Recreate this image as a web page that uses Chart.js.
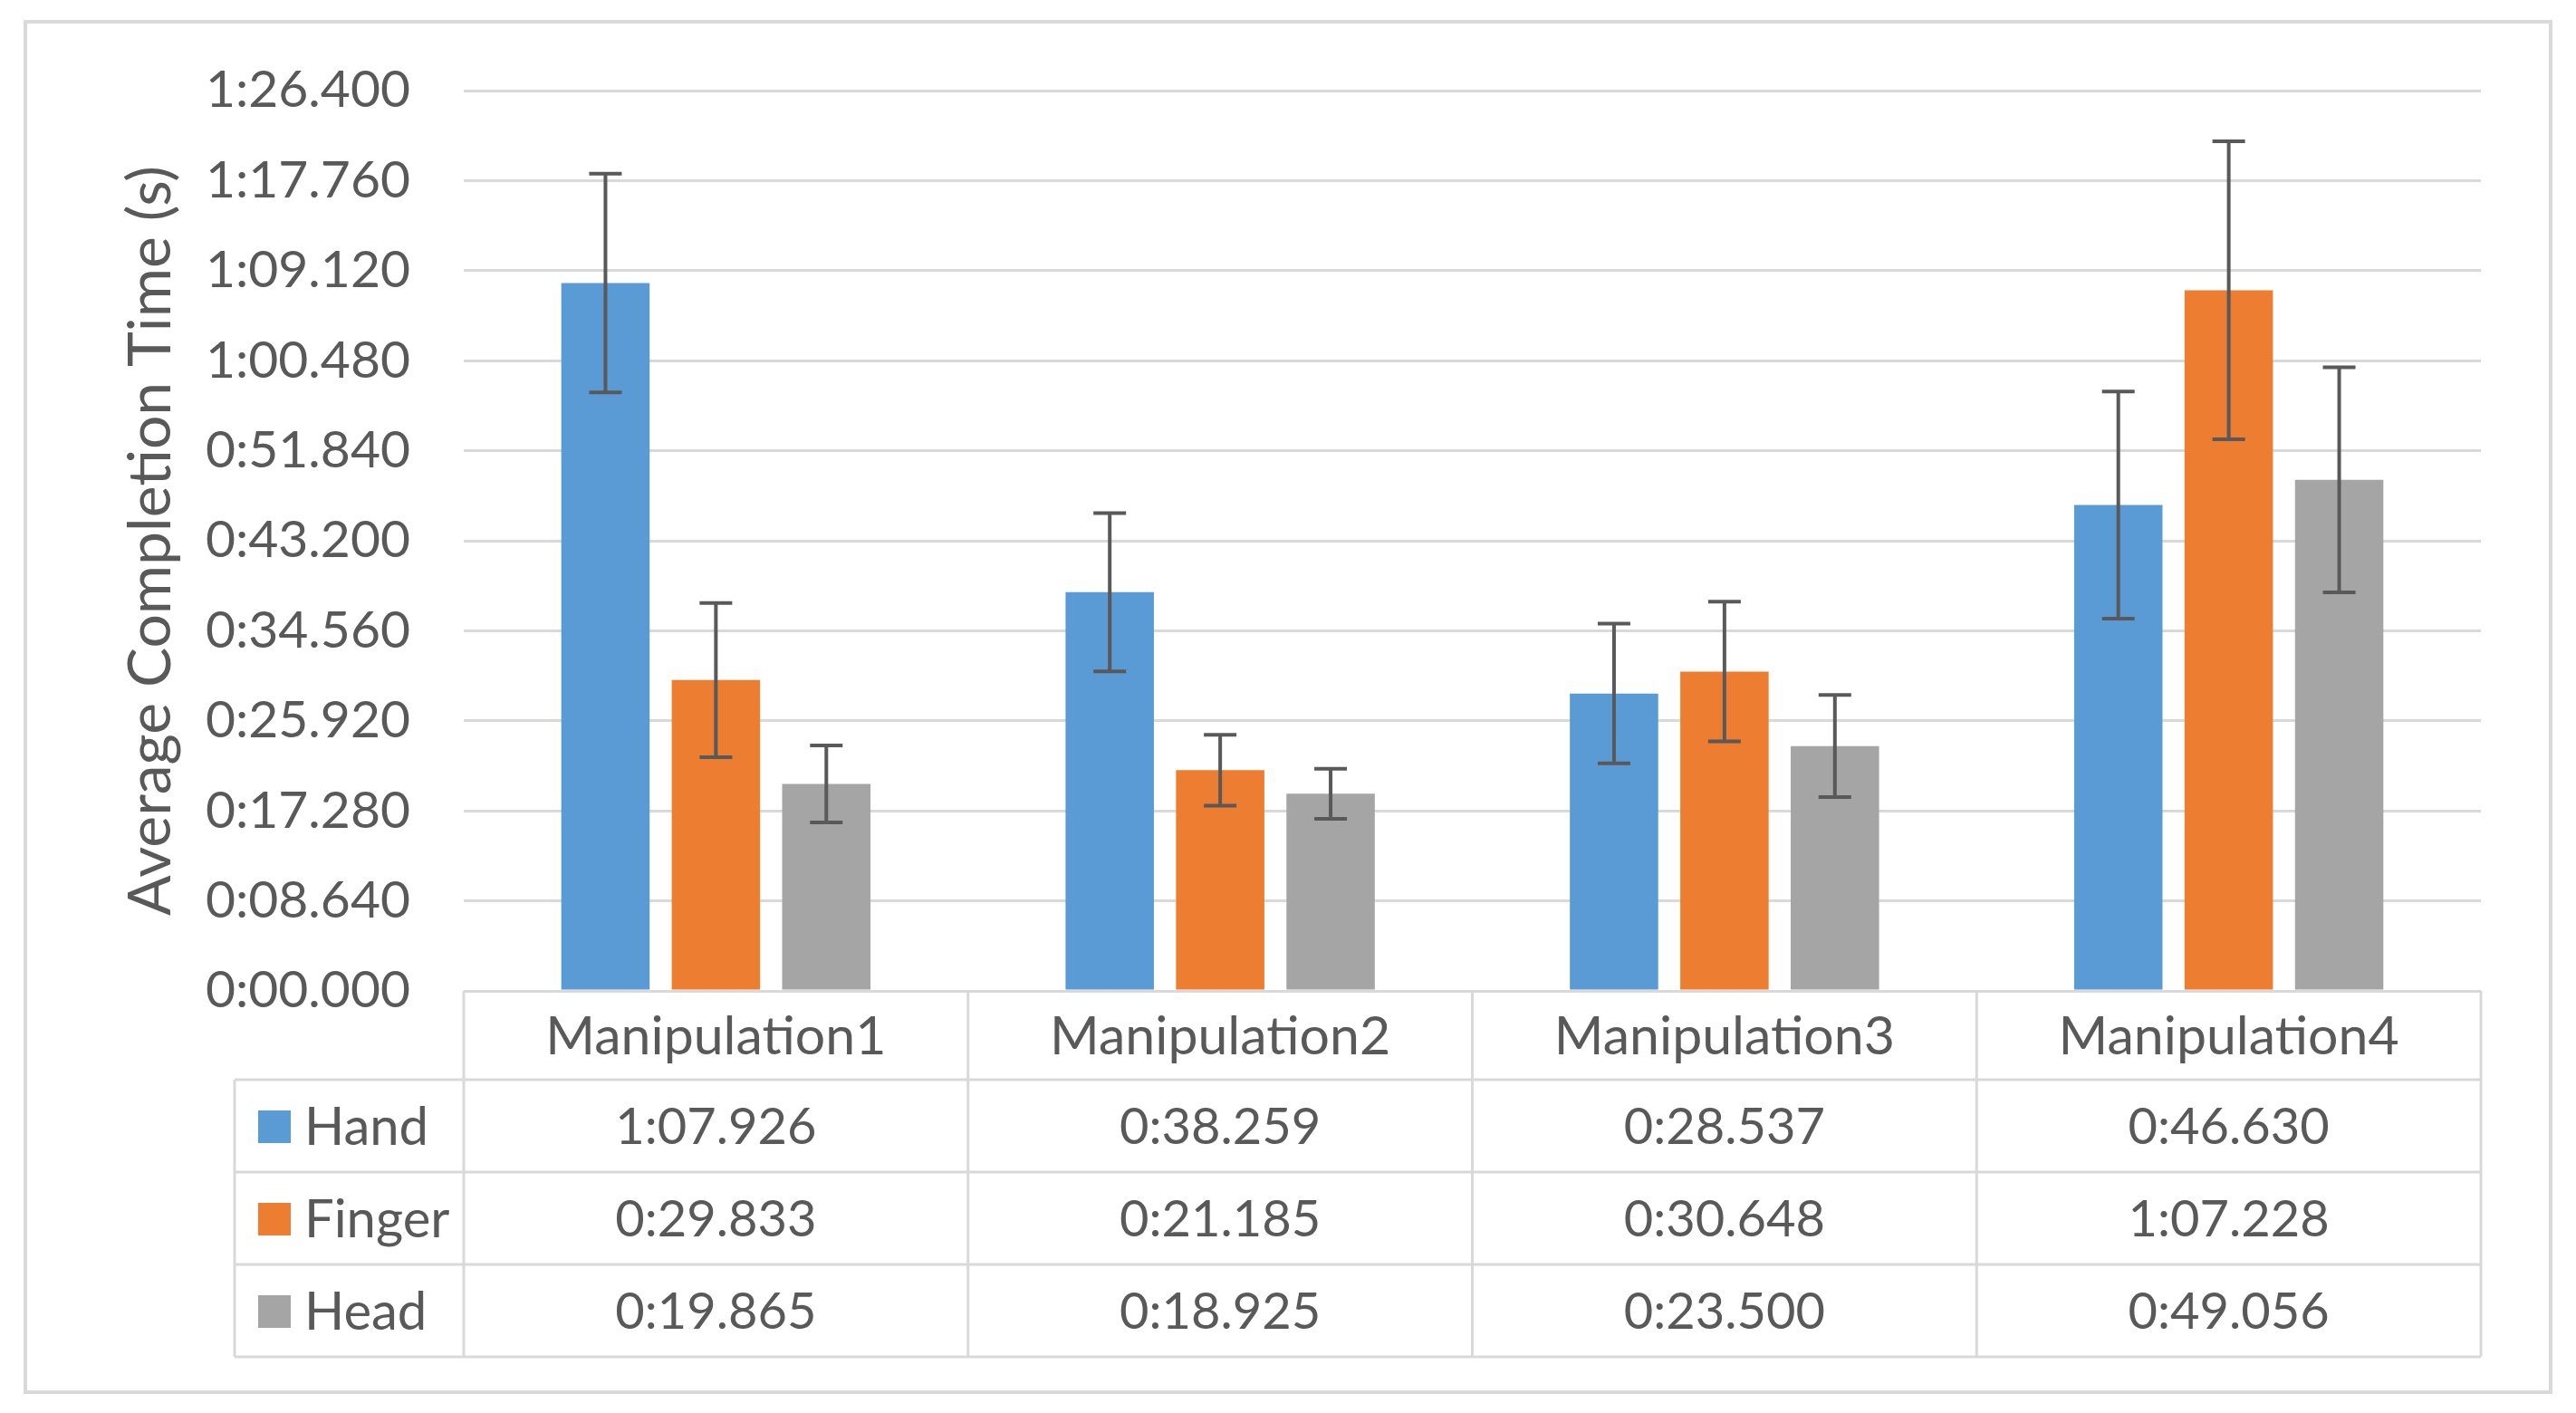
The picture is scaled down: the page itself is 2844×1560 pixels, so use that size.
<!DOCTYPE html>
<html>
<head>
<meta charset="utf-8">
<script src="https://cdn.jsdelivr.net/npm/chart.js@4/dist/chart.umd.min.js"></script>
<style>
  html, body { margin: 0; padding: 0; background: #ffffff; }
  #wrap { width: 2844px; height: 1560px; }
</style>
</head>
<body>
<div id="wrap"><canvas id="c" width="2844" height="1560"></canvas></div>
<script>
// ---- data (seconds) ----
const categories = ["Manipulation1", "Manipulation2", "Manipulation3", "Manipulation4"];
const seriesNames = ["Hand", "Finger", "Head"];
const handValues   = [67.926, 38.259, 28.537, 46.630];
const fingerValues = [29.833, 21.185, 30.648, 67.228];
const headValues   = [19.865, 18.925, 23.500, 49.056];
// error bar half-lengths (seconds)
const handErrors   = [10.5, 7.6, 6.7, 10.9];
const fingerErrors = [7.4, 3.4, 6.7, 14.3];
const headErrors   = [3.7, 2.4, 4.9, 10.8];
// y axis ticks
const yMin = 0, yMax = 86.4, yStep = 8.64;

const colors = ["#5B9BD5", "#ED7D31", "#A5A5A5"];
const textColor = "#595959";
const lineColor = "#D9D9D9";
const FONT = "Lato, 'Open Sans', 'Liberation Sans', sans-serif";

function fmtTime(v) {
  const ms = Math.round(v * 1000);
  const m = Math.floor(ms / 60000);
  const rest = ms % 60000;
  const s = Math.floor(rest / 1000);
  const f = rest % 1000;
  return m + ":" + String(s).padStart(2, "0") + "." + String(f).padStart(3, "0");
}

const valueSets = [handValues, fingerValues, headValues];
const errorSets = [handErrors, fingerErrors, headErrors];

const frame = {
  id: "frame",
  beforeDraw(chart) {
    const ctx = chart.ctx;
    ctx.save();
    ctx.fillStyle = "#ffffff";
    ctx.fillRect(0, 0, chart.width, chart.height);
    ctx.strokeStyle = lineColor;
    ctx.lineWidth = 4;
    ctx.strokeRect(28, 24, 2788, 1513);
    ctx.restore();
  }
};

const errorBars = {
  id: "errorBars",
  afterDatasetsDraw(chart) {
    const ctx = chart.ctx;
    const y = chart.scales.y;
    ctx.save();
    ctx.strokeStyle = "#595959";
    ctx.lineWidth = 4;
    chart.data.datasets.forEach((ds, di) => {
      const meta = chart.getDatasetMeta(di);
      meta.data.forEach((bar, i) => {
        const v = ds.data[i], e = errorSets[di][i];
        const x = bar.x;
        const yt = y.getPixelForValue(v + e);
        const yb = y.getPixelForValue(v - e);
        const cap = 18;
        ctx.beginPath();
        ctx.moveTo(x, yt); ctx.lineTo(x, yb);
        ctx.moveTo(x - cap, yt); ctx.lineTo(x + cap, yt);
        ctx.moveTo(x - cap, yb); ctx.lineTo(x + cap, yb);
        ctx.stroke();
      });
    });
    ctx.restore();
  }
};

const dataTable = {
  id: "dataTable",
  afterDraw(chart) {
    const ctx = chart.ctx;
    const area = chart.chartArea;
    const n = categories.length;
    const colW = area.width / n;
    const top = area.bottom;
    const headerH = 98;
    const rowH = 102;
    const tableLeft = 259;
    const rowsTop = top + headerH;
    const tableBottom = rowsTop + rowH * seriesNames.length;
    ctx.save();
    ctx.strokeStyle = lineColor;
    ctx.lineWidth = 3;
    ctx.beginPath();
    for (let i = 0; i <= n; i++) {
      const x = area.left + i * colW;
      ctx.moveTo(x, top); ctx.lineTo(x, tableBottom);
    }
    ctx.moveTo(tableLeft, rowsTop); ctx.lineTo(tableLeft, tableBottom);
    for (let r = 0; r <= seriesNames.length; r++) {
      const yy = rowsTop + r * rowH;
      ctx.moveTo(tableLeft, yy); ctx.lineTo(area.right, yy);
    }
    ctx.stroke();

    ctx.fillStyle = textColor;
    ctx.textBaseline = "middle";
    ctx.textAlign = "center";
    const xs = chart.scales.x;
    ctx.font = "59px " + FONT;
    categories.forEach((c, i) => {
      ctx.fillText(c, xs.getPixelForValue(i), top + headerH / 2 + 2);
    });
    seriesNames.forEach((s, r) => {
      const cy = rowsTop + r * rowH + rowH / 2 + 2;
      ctx.fillStyle = colors[r];
      ctx.fillRect(285, cy - 19, 36, 36);
      ctx.fillStyle = textColor;
      ctx.font = "58px " + FONT;
      ctx.textAlign = "left";
      ctx.fillText(s, 336, cy);
      ctx.font = "56px " + FONT;
      ctx.textAlign = "center";
      valueSets[r].forEach((v, i) => {
        ctx.fillText(fmtTime(v), xs.getPixelForValue(i), cy);
      });
    });
    ctx.restore();
  }
};

new Chart(document.getElementById("c"), {
  type: "bar",
  data: {
    labels: categories,
    datasets: seriesNames.map((name, k) => ({
      label: name,
      data: valueSets[k],
      backgroundColor: colors[k],
      borderWidth: 0,
      categoryPercentage: 0.657,
      barPercentage: 0.80
    }))
  },
  options: {
    responsive: false,
    devicePixelRatio: 1,
    animation: false,
    layout: { padding: { left: 0, right: 105, top: 100, bottom: 466 } },
    plugins: { legend: { display: false }, tooltip: { enabled: false } },
    scales: {
      x: { display: false },
      y: {
        min: yMin, max: yMax,
        afterFit(scale) { scale.width = 512; },
        afterBuildTicks(scale) {
          const t = [];
          for (let k = 0; k <= Math.round((yMax - yMin) / yStep); k++) t.push({ value: +(yMin + k * yStep).toFixed(3) });
          scale.ticks = t;
        },
        ticks: {
          color: textColor,
          font: { family: FONT, size: 57 },
          padding: 59,
          callback: (v) => fmtTime(v)
        },
        grid: { color: lineColor, lineWidth: 3, drawTicks: false },
        border: { display: false },
        title: {
          display: true,
          text: "Average Completion Time (s)",
          color: textColor,
          font: { family: FONT, size: 66 },
          padding: { top: 127, bottom: 0 }
        }
      }
    }
  },
  plugins: [frame, errorBars, dataTable]
});
</script>
</body>
</html>
